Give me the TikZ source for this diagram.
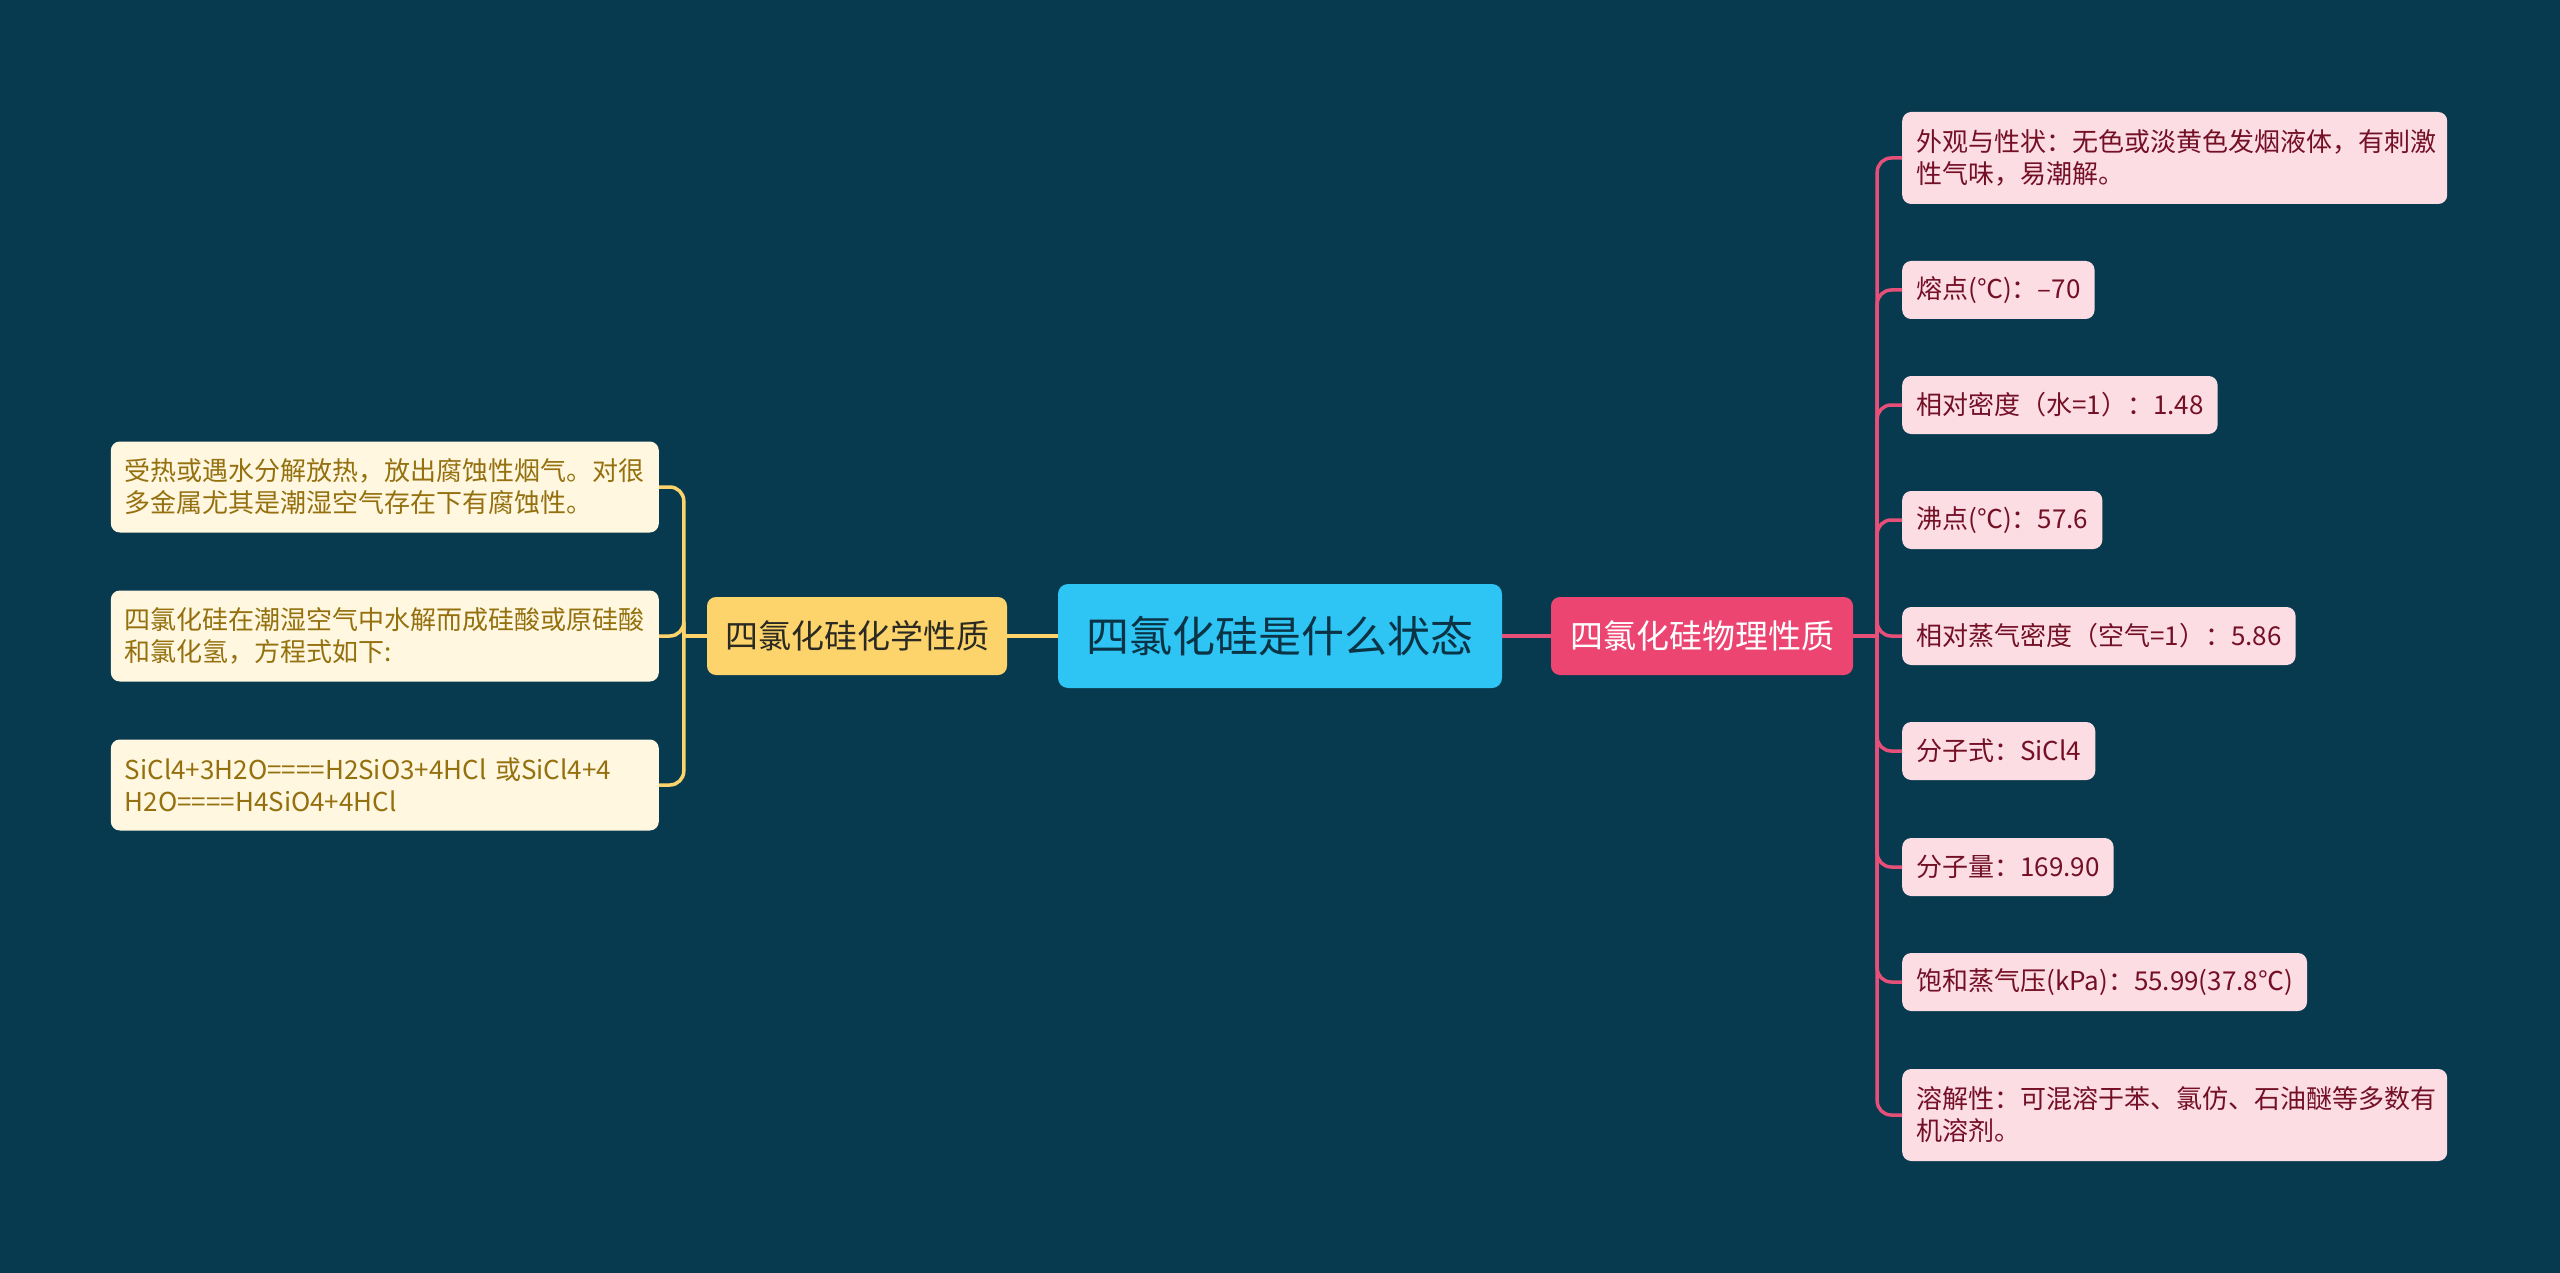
\documentclass[tikz,border=0pt]{standalone}
\usepackage{fontspec}
\setmainfont{Noto Sans CJK SC}
\usetikzlibrary{calc}
\definecolor{bgc}{HTML}{073A4E}
\definecolor{rootfill}{HTML}{2EC5F4}
\definecolor{roottext}{HTML}{0B3346}
\definecolor{chemfill}{HTML}{FDD46B}
\definecolor{chemtext}{HTML}{2A2A22}
\definecolor{physfill}{HTML}{EC4572}
\definecolor{creamfill}{HTML}{FFF7E0}
\definecolor{goldtext}{HTML}{94700F}
\definecolor{pinkfill}{HTML}{FCDDE3}
\definecolor{redtext}{HTML}{741026}
\definecolor{yline}{HTML}{FDD46B}
\definecolor{pline}{HTML}{E65078}
\begin{document}
\begin{tikzpicture}[x=1pt,y=-1pt,
  rootbox/.style={fill=rootfill, text=roottext, rounded corners=10pt, inner sep=0pt,
    minimum width=444pt, minimum height=104pt, font=\fontsize{43}{50}\selectfont},
  chembox/.style={fill=chemfill, text=chemtext, rounded corners=9pt, inner sep=0pt,
    minimum width=300pt, minimum height=78pt, font=\fontsize{33}{40}\selectfont},
  physbox/.style={fill=physfill, text=white, rounded corners=9pt, inner sep=0pt,
    minimum width=302pt, minimum height=78pt, font=\fontsize{33}{40}\selectfont},
  leafl/.style={fill=creamfill, text=goldtext, rounded corners=9pt, text width=520pt,
    align=left, inner xsep=14pt, inner ysep=0pt, minimum height=91pt,
    font=\fontsize{26}{32}\selectfont, anchor=east},
  leafr/.style={fill=pinkfill, text=redtext, rounded corners=9pt, inner xsep=14pt,
    inner ysep=0pt, minimum height=58pt, font=\fontsize{26}{32}\selectfont, anchor=west},
  leafrr/.style={leafr, text width=517pt, align=left, minimum height=92pt},
  ylink/.style={draw=yline, line width=3.5pt},
  plink/.style={draw=pline, line width=3.5pt},
]
\useasboundingbox (0,0) rectangle (2560,1273);
\fill[bgc] (0,0) rectangle (2560,1273);

\node[rootbox] (root) at (1280,636) {四氯化硅是什么状态};
\node[chembox] (chem) at (857,636) {四氯化硅化学性质};
\node[physbox] (phys) at (1702,636) {四氯化硅物理性质};

\node[leafl] (l1) at (659,487) {受热或遇水分解放热，放出腐蚀性烟气。对很\\多金属尤其是潮湿空气存在下有腐蚀性。};
\node[leafl] (l2) at (659,636) {四氯化硅在潮湿空气中水解而成硅酸或原硅酸\\和氯化氢，方程式如下:};
\node[leafl] (l3) at (659,785) {SiCl4+3H2O====H2SiO3+4HCl 或SiCl4+4\\H2O====H4SiO4+4HCl};

\node[leafrr] (r1) at (1902,158) {外观与性状：无色或淡黄色发烟液体，有刺激\\性气味，易潮解。};
\node[leafr] (r2) at (1902,290) {熔点(℃)：–70};
\node[leafr] (r3) at (1902,405) {相对密度（水=1）：1.48};
\node[leafr] (r4) at (1902,520) {沸点(℃)：57.6};
\node[leafr] (r5) at (1902,636) {相对蒸气密度（空气=1）：5.86};
\node[leafr] (r6) at (1902,751) {分子式：SiCl4};
\node[leafr] (r7) at (1902,867) {分子量：169.90};
\node[leafr] (r8) at (1902,982) {饱和蒸气压(kPa)：55.99(37.8℃)};
\node[leafrr] (r9) at (1902,1115) {溶解性：可混溶于苯、氯仿、石油醚等多数有\\机溶剂。};

\coordinate (jl) at ($(chem.west)+(-23,0)$);
\coordinate (jr) at ($(phys.east)+(24,0)$);

\draw[ylink] (root.west) -- (chem.east);
\draw[plink] (root.east) -- (phys.west);

\draw[ylink] (chem.west) -- (jl);
\foreach \n in {l1,l2,l3} \draw[ylink, rounded corners=14pt] (jl) |- (\n.east);

\draw[plink] (phys.east) -- (jr);
\foreach \n in {r1,r2,r3,r4,r5,r6,r7,r8,r9} \draw[plink, rounded corners=14pt] (jr) |- (\n.west);
\end{tikzpicture}
\end{document}
